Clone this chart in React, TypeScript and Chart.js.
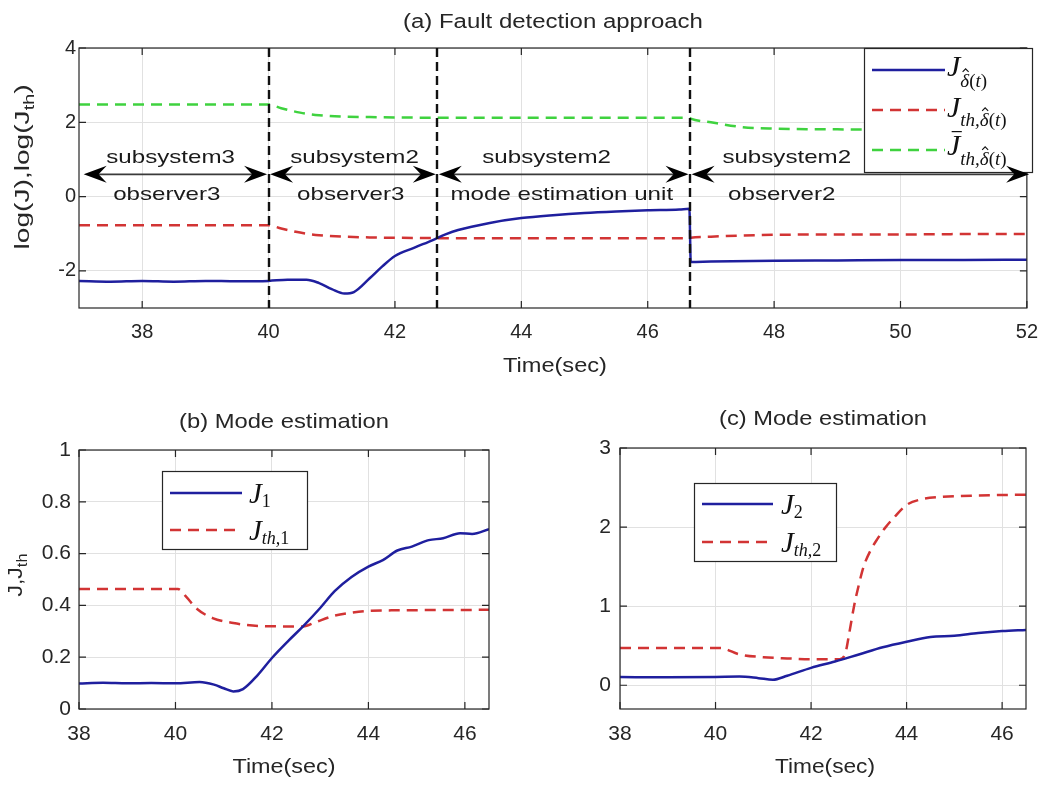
import React, { useEffect, useRef } from "react";
import { Chart, registerables } from "chart.js";

Chart.register(...registerables);

const SANS = '"Liberation Sans", Arial, Helvetica, sans-serif';
const SERIF = '"Liberation Serif", "Times New Roman", "DejaVu Serif", serif';
const TXT = "#262626";
const GRID = "#e1e1e1";
const BLUE = "#1f1f9e";
const RED = "#d23434";
const GREEN = "#3fd23f";

// ---------------- Panel (a): Fault detection approach ----------------
const timeA = [37, 37.5, 38, 38.5, 39, 39.5, 40, 40.3, 40.6, 40.8, 41.0, 41.2, 41.35, 41.6, 41.8, 42.0, 42.3, 42.6, 42.8, 43.0, 43.5, 44.0, 44.5, 45.0, 45.5, 46.0, 46.5, 46.66, 46.68, 47, 48, 49, 50, 51, 52];
const logJ = [-2.27, -2.29, -2.27, -2.29, -2.27, -2.28, -2.27, -2.24, -2.24, -2.33, -2.49, -2.61, -2.57, -2.2, -1.88, -1.6, -1.38, -1.17, -1.02, -0.9, -0.71, -0.58, -0.5, -0.44, -0.4, -0.37, -0.35, -0.33, -1.76, -1.75, -1.73, -1.72, -1.71, -1.71, -1.7];
const timeThA = [37, 40, 40.2, 40.5, 40.8, 41.2, 41.6, 42, 43, 44, 45, 46, 46.66, 46.68, 47, 47.5, 48, 49, 50, 51, 52];
const logJth = [-0.77, -0.77, -0.86, -0.97, -1.04, -1.08, -1.1, -1.11, -1.12, -1.12, -1.12, -1.12, -1.12, -1.11, -1.08, -1.05, -1.03, -1.02, -1.02, -1.01, -1.01];
const logJthBar = [2.48, 2.48, 2.38, 2.26, 2.19, 2.15, 2.14, 2.13, 2.12, 2.12, 2.12, 2.12, 2.12, 2.1, 2.0, 1.87, 1.83, 1.81, 1.8, 1.8, 1.8];
const xTicksA = [38, 40, 42, 44, 46, 48, 50, 52];
const xTickLabelsA = ["38", "40", "42", "44", "46", "48", "50", "52"];
const yTicksA = [-2, 0, 2, 4];
const yTickLabelsA = ["-2", "0", "2", "4"];
const switchTimes = [40, 42.67, 46.67];
const arrowBounds = [37.05, 40, 42.67, 46.67, 52.06];
const arrowLevel = 0.6;
const upperLabels = ["subsystem3", "subsystem2", "subsystem2", "subsystem2"];
const lowerLabels = ["observer3", "observer3", "mode estimation unit", "observer2"];
const upperLabelX = [38.45, 41.36, 44.4, 48.2];
const lowerLabelX = [38.39, 41.3, 44.64, 48.12];

// ---------------- Panel (b): Mode estimation J1 ----------------
const timeB = [38, 38.5, 39, 39.5, 40, 40.5, 40.8, 41.0, 41.2, 41.4, 41.7, 42.0, 42.35, 42.65, 43.0, 43.3, 43.65, 44.0, 44.3, 44.6, 44.9, 45.25, 45.55, 45.9, 46.15, 46.5];
const J1 = [0.098, 0.101, 0.099, 0.1, 0.099, 0.104, 0.094, 0.08, 0.068, 0.077, 0.13, 0.197, 0.265, 0.32, 0.39, 0.455, 0.51, 0.55, 0.575, 0.612, 0.627, 0.652, 0.659, 0.679, 0.676, 0.694];
const timeThB = [38, 40.05, 40.22, 40.43, 40.77, 41.2, 41.6, 42.2, 42.65, 42.9, 43.25, 43.65, 44.0, 44.6, 46.5];
const Jth1 = [0.463, 0.463, 0.434, 0.389, 0.351, 0.332, 0.322, 0.319, 0.319, 0.335, 0.358, 0.372, 0.379, 0.381, 0.383];
const xTicksB = [38, 40, 42, 44, 46];
const xTickLabelsB = ["38", "40", "42", "44", "46"];
const yTicksB = [0, 0.2, 0.4, 0.6, 0.8, 1];
const yTickLabelsB = ["0", "0.2", "0.4", "0.6", "0.8", "1"];

// ---------------- Panel (c): Mode estimation J2 ----------------
const timeC = [38, 39, 40, 40.5, 40.9, 41.2, 41.5, 42, 42.5, 43, 43.5, 44, 44.5, 45, 45.5, 46, 46.5];
const J2 = [0.105, 0.1, 0.105, 0.11, 0.09, 0.07, 0.12, 0.22, 0.3, 0.39, 0.48, 0.55, 0.61, 0.625, 0.66, 0.685, 0.7];
const timeThC = [38, 40.1, 40.5, 41, 41.5, 42, 42.6, 42.72, 42.8, 42.9, 43.0, 43.1, 43.25, 43.4, 43.55, 43.75, 44, 44.3, 44.7, 45.5, 46.5];
const Jth2 = [0.47, 0.47, 0.39, 0.355, 0.34, 0.33, 0.33, 0.41, 0.66, 1.0, 1.27, 1.5, 1.71, 1.86, 1.99, 2.13, 2.28, 2.35, 2.38, 2.4, 2.41];
const xTicksC = [38, 40, 42, 44, 46];
const xTickLabelsC = ["38", "40", "42", "44", "46"];
const yTicksC = [0, 1, 2, 3];
const yTickLabelsC = ["0", "1", "2", "3"];

// ---------------- helpers ----------------
type Seg = { t: string; font: string; dy?: number };

function richText(
  ctx: CanvasRenderingContext2D,
  segs: Seg[],
  x: number,
  y: number,
  opts: { w?: number; sx?: number; rot?: number; color?: string } = {}
) {
  ctx.save();
  ctx.translate(x, y);
  if (opts.rot) ctx.rotate(opts.rot);
  ctx.textAlign = "left";
  ctx.textBaseline = "alphabetic";
  const ws = segs.map((s) => {
    ctx.font = s.font;
    return ctx.measureText(s.t).width;
  });
  const tot = ws.reduce((a, b) => a + b, 0);
  const sx = opts.w ? opts.w / tot : opts.sx || 1;
  ctx.scale(sx, 1);
  let cx = -tot / 2;
  ctx.fillStyle = opts.color || TXT;
  segs.forEach((s, i) => {
    ctx.font = s.font;
    ctx.fillText(s.t, cx, s.dy || 0);
    cx += ws[i];
  });
  ctx.restore();
}

type MathPart = { t: string; size: number; up?: boolean; dy: number; hat?: boolean; bar?: boolean };

function drawMath(ctx: CanvasRenderingContext2D, x: number, base: number, parts: MathPart[]) {
  let cx = x;
  ctx.save();
  ctx.fillStyle = "#111";
  ctx.strokeStyle = "#111";
  ctx.textAlign = "left";
  ctx.textBaseline = "alphabetic";
  ctx.setLineDash([]);
  for (const p of parts) {
    ctx.font = `${p.up ? "" : "italic "}${p.size}px ${SERIF}`;
    const w = ctx.measureText(p.t).width;
    const y = base + p.dy;
    ctx.fillText(p.t, cx, y);
    if (p.hat) {
      const mx = cx + w * 0.6;
      const top = y - p.size * 0.72 - 1.5;
      ctx.lineWidth = 1.1;
      ctx.beginPath();
      ctx.moveTo(mx - 3, top);
      ctx.lineTo(mx, top - 3);
      ctx.lineTo(mx + 3, top);
      ctx.stroke();
    }
    if (p.bar) {
      const top = y - p.size * 0.68 - 3;
      ctx.lineWidth = 1.2;
      ctx.beginPath();
      ctx.moveTo(cx + w * 0.35, top);
      ctx.lineTo(cx + w + 1.5, top);
      ctx.stroke();
    }
    cx += w;
  }
  ctx.restore();
}

type LegendEntry = { color: string; dash: number[]; y: number; parts: MathPart[] };

function drawLegend(
  ctx: CanvasRenderingContext2D,
  box: { x: number; y: number; w: number; h: number },
  entries: LegendEntry[],
  x1: number,
  x2: number,
  textX: number
) {
  ctx.save();
  ctx.fillStyle = "#fff";
  ctx.fillRect(box.x, box.y, box.w, box.h);
  ctx.strokeStyle = TXT;
  ctx.lineWidth = 1.2;
  ctx.setLineDash([]);
  ctx.strokeRect(box.x + 0.5, box.y + 0.5, box.w - 1, box.h - 1);
  entries.forEach((e) => {
    ctx.strokeStyle = e.color;
    ctx.lineWidth = 2.5;
    ctx.setLineDash(e.dash);
    ctx.beginPath();
    ctx.moveTo(x1, e.y);
    ctx.lineTo(x2, e.y);
    ctx.stroke();
    drawMath(ctx, textX, e.y, e.parts);
  });
  ctx.restore();
}

function deltaHatSub(size: number, dy: number): MathPart[] {
  return [
    { t: "δ", size, dy, hat: true },
    { t: "(", size, dy, up: true },
    { t: "t", size, dy },
    { t: ")", size, dy, up: true },
  ];
}

function arrowHead(ctx: CanvasRenderingContext2D, tipX: number, y: number, dir: number) {
  const L = 23;
  const W = 8.5;
  ctx.beginPath();
  ctx.moveTo(tipX, y);
  ctx.lineTo(tipX - dir * L, y - W);
  ctx.lineTo(tipX - dir * L * 0.65, y);
  ctx.lineTo(tipX - dir * L, y + W);
  ctx.closePath();
  ctx.fill();
}

interface PanelSpec {
  w: number;
  h: number;
  area: { l: number; t: number; r: number; b: number };
  xMin: number;
  xMax: number;
  xTicks: number[];
  xLabels: string[];
  yMin: number;
  yMax: number;
  yTicks: number[];
  yLabels: string[];
  tickSize: number;
  xPad: number;
  yPad: number;
  datasets: any[];
  decorate: (chart: any, ctx: CanvasRenderingContext2D) => void;
}

function lineDataset(xs: number[], ys: number[], color: string, dash: number[]) {
  return {
    data: xs.map((x, i) => ({ x, y: ys[i] })),
    borderColor: color,
    backgroundColor: color,
    borderWidth: 2.5,
    borderDash: dash,
    pointRadius: 0,
    fill: false,
    cubicInterpolationMode: "monotone",
  };
}

function makeChart(canvas: HTMLCanvasElement, s: PanelSpec) {
  const font = { family: SANS, size: s.tickSize };
  const framePlugin = {
    id: "frame",
    afterDatasetsDraw(chart: any) {
      const ctx: CanvasRenderingContext2D = chart.ctx;
      const a = chart.chartArea;
      const xs = chart.scales.x;
      const ys = chart.scales.y;
      ctx.save();
      ctx.strokeStyle = TXT;
      ctx.lineWidth = 1.2;
      ctx.setLineDash([]);
      ctx.strokeRect(a.left, a.top, a.right - a.left, a.bottom - a.top);
      const tl = 7;
      ctx.beginPath();
      s.xTicks.forEach((v) => {
        const px = xs.getPixelForValue(v);
        ctx.moveTo(px, a.bottom);
        ctx.lineTo(px, a.bottom - tl);
        ctx.moveTo(px, a.top);
        ctx.lineTo(px, a.top + tl);
      });
      s.yTicks.forEach((v) => {
        const py = ys.getPixelForValue(v);
        ctx.moveTo(a.left, py);
        ctx.lineTo(a.left + tl, py);
        ctx.moveTo(a.right, py);
        ctx.lineTo(a.right - tl, py);
      });
      ctx.stroke();
      ctx.restore();
      s.decorate(chart, ctx);
    },
  };
  return new Chart(canvas, {
    type: "line",
    data: { datasets: s.datasets },
    options: {
      responsive: false,
      maintainAspectRatio: false,
      animation: false,
      events: [],
      layout: { padding: { left: 0, top: s.area.t, right: s.w - s.area.r, bottom: 0 } },
      plugins: { legend: { display: false }, title: { display: false }, tooltip: { enabled: false } },
      scales: {
        x: {
          type: "linear",
          min: s.xMin,
          max: s.xMax,
          afterBuildTicks: (sc: any) => {
            sc.ticks = s.xTicks.map((v) => ({ value: v }));
          },
          afterFit: (sc: any) => {
            sc.height = s.h - s.area.b;
          },
          grid: { color: GRID, lineWidth: 1, drawTicks: false },
          border: { display: false },
          ticks: {
            font,
            color: TXT,
            padding: s.xPad,
            maxRotation: 0,
            autoSkip: false,
            callback: (_v: any, i: number) => s.xLabels[i],
          },
        },
        y: {
          type: "linear",
          min: s.yMin,
          max: s.yMax,
          afterBuildTicks: (sc: any) => {
            sc.ticks = s.yTicks.map((v) => ({ value: v }));
          },
          afterFit: (sc: any) => {
            sc.width = s.area.l;
          },
          grid: { color: GRID, lineWidth: 1, drawTicks: false },
          border: { display: false },
          ticks: {
            font,
            color: TXT,
            padding: s.yPad,
            autoSkip: false,
            callback: (_v: any, i: number) => s.yLabels[i],
          },
        },
      },
    } as any,
    plugins: [framePlugin],
  } as any);
}

export default function App() {
  const refA = useRef<HTMLCanvasElement>(null);
  const refB = useRef<HTMLCanvasElement>(null);
  const refC = useRef<HTMLCanvasElement>(null);

  useEffect(() => {
    const charts: any[] = [];

    // ---------- (a) ----------
    charts.push(
      makeChart(refA.current!, {
        w: 1050,
        h: 390,
        area: { l: 79, t: 48, r: 1031, b: 308 },
        xMin: 37,
        xMax: 52,
        xTicks: xTicksA,
        xLabels: xTickLabelsA,
        yMin: -3,
        yMax: 4,
        yTicks: yTicksA,
        yLabels: yTickLabelsA,
        tickSize: 20,
        xPad: 12,
        yPad: 3,
        datasets: [
          lineDataset(timeA, logJ, BLUE, []),
          lineDataset(timeThA, logJth, RED, [11, 7]),
          lineDataset(timeThA, logJthBar, GREEN, [11, 7]),
        ],
        decorate: (chart, ctx) => {
          const a = chart.chartArea;
          const xs = chart.scales.x;
          const ys = chart.scales.y;
          // switching instants
          ctx.save();
          ctx.strokeStyle = "#111";
          ctx.lineWidth = 2.4;
          ctx.setLineDash([9, 5]);
          switchTimes.forEach((t) => {
            const px = Math.round(xs.getPixelForValue(t));
            ctx.beginPath();
            ctx.moveTo(px, a.top);
            ctx.lineTo(px, a.bottom);
            ctx.stroke();
          });
          ctx.restore();

          // legend
          const LJ = 30;
          const LS = 19;
          drawLegend(
            ctx,
            { x: 864, y: 48, w: 169, h: 125 },
            [
              { color: BLUE, dash: [], y: 70, parts: [{ t: "J", size: LJ, dy: 6 }, ...deltaHatSub(LS, 17)] },
              {
                color: RED,
                dash: [11, 7],
                y: 110,
                parts: [{ t: "J", size: LJ, dy: 7 }, { t: "th,", size: LS, dy: 16 }, ...deltaHatSub(LS, 16)],
              },
              {
                color: GREEN,
                dash: [11, 7],
                y: 150,
                parts: [{ t: "J", size: LJ, dy: 5, bar: true }, { t: "th,", size: LS, dy: 15 }, ...deltaHatSub(LS, 15)],
              },
            ],
            872,
            945,
            947
          );

          // double arrows with mode labels
          const ay = ys.getPixelForValue(arrowLevel);
          ctx.save();
          for (let i = 0; i < arrowBounds.length - 1; i++) {
            const x1 = xs.getPixelForValue(arrowBounds[i]) + 1.5;
            const x2 = xs.getPixelForValue(arrowBounds[i + 1]) - 1.5;
            ctx.strokeStyle = "#3a3a3a";
            ctx.lineWidth = 1.8;
            ctx.setLineDash([]);
            ctx.beginPath();
            ctx.moveTo(x1 + 12, ay);
            ctx.lineTo(x2 - 12, ay);
            ctx.stroke();
            ctx.fillStyle = "#000";
            arrowHead(ctx, x1, ay, -1);
            arrowHead(ctx, x2, ay, 1);
          }
          ctx.restore();
          const AF = `19px ${SANS}`;
          upperLabels.forEach((t, i) => {
            richText(ctx, [{ t, font: AF }], xs.getPixelForValue(upperLabelX[i]), ay - 11, { sx: 1.27, color: "#1a1a1a" });
          });
          lowerLabels.forEach((t, i) => {
            richText(ctx, [{ t, font: AF }], xs.getPixelForValue(lowerLabelX[i]), ay + 26, { sx: 1.27, color: "#1a1a1a" });
          });

          // title and axis labels
          richText(ctx, [{ t: "(a) Fault detection approach", font: `20px ${SANS}` }], (a.left + a.right) / 2, 28, { w: 300 });
          richText(ctx, [{ t: "Time(sec)", font: `20px ${SANS}` }], (a.left + a.right) / 2 + 2, 372, { w: 104 });
          richText(
            ctx,
            [
              { t: "log(J),log(J", font: `20px ${SANS}` },
              { t: "th", font: `14px ${SANS}`, dy: 5 },
              { t: ")", font: `20px ${SANS}` },
            ],
            29,
            167,
            { w: 165, rot: -Math.PI / 2 }
          );
        },
      })
    );

    // ---------- (b) ----------
    charts.push(
      makeChart(refB.current!, {
        w: 525,
        h: 395,
        area: { l: 79, t: 60, r: 489, b: 319 },
        xMin: 38,
        xMax: 46.5,
        xTicks: xTicksB,
        xLabels: xTickLabelsB,
        yMin: 0,
        yMax: 1,
        yTicks: yTicksB,
        yLabels: yTickLabelsB,
        tickSize: 21,
        xPad: 13,
        yPad: 8,
        datasets: [lineDataset(timeB, J1, BLUE, []), lineDataset(timeThB, Jth1, RED, [11, 7])],
        decorate: (chart, ctx) => {
          const a = chart.chartArea;
          drawLegend(
            ctx,
            { x: 162, y: 81, w: 146, h: 79 },
            [
              { color: BLUE, dash: [], y: 103, parts: [{ t: "J", size: 29, dy: 10 }, { t: "1", size: 18, dy: 14, up: true }] },
              {
                color: RED,
                dash: [11, 7],
                y: 140,
                parts: [{ t: "J", size: 29, dy: 10 }, { t: "th,", size: 18, dy: 14 }, { t: "1", size: 18, dy: 14, up: true }],
              },
            ],
            170,
            242,
            249
          );
          richText(ctx, [{ t: "(b) Mode estimation", font: `21px ${SANS}` }], (a.left + a.right) / 2, 38, { w: 210 });
          richText(ctx, [{ t: "Time(sec)", font: `20px ${SANS}` }], (a.left + a.right) / 2, 383, { w: 103 });
          richText(
            ctx,
            [
              { t: "J,J", font: `21px ${SANS}` },
              { t: "th", font: `15px ${SANS}`, dy: 5 },
            ],
            22,
            185,
            { w: 43, rot: -Math.PI / 2 }
          );
        },
      })
    );

    // ---------- (c) ----------
    charts.push(
      makeChart(refC.current!, {
        w: 525,
        h: 395,
        area: { l: 95, t: 58, r: 501, b: 319 },
        xMin: 38,
        xMax: 46.5,
        xTicks: xTicksC,
        xLabels: xTickLabelsC,
        yMin: -0.3,
        yMax: 3,
        yTicks: yTicksC,
        yLabels: yTickLabelsC,
        tickSize: 21,
        xPad: 13,
        yPad: 9,
        datasets: [lineDataset(timeC, J2, BLUE, []), lineDataset(timeThC, Jth2, RED, [11, 7])],
        decorate: (chart, ctx) => {
          const a = chart.chartArea;
          drawLegend(
            ctx,
            { x: 169, y: 93, w: 143, h: 79 },
            [
              { color: BLUE, dash: [], y: 114, parts: [{ t: "J", size: 29, dy: 10 }, { t: "2", size: 18, dy: 14, up: true }] },
              {
                color: RED,
                dash: [11, 7],
                y: 152,
                parts: [{ t: "J", size: 29, dy: 10 }, { t: "th,", size: 18, dy: 14 }, { t: "2", size: 18, dy: 14, up: true }],
              },
            ],
            177,
            248,
            256
          );
          richText(ctx, [{ t: "(c) Mode estimation", font: `21px ${SANS}` }], (a.left + a.right) / 2, 35, { w: 208 });
          richText(ctx, [{ t: "Time(sec)", font: `20px ${SANS}` }], (a.left + a.right) / 2 + 2, 383, { w: 100 });
        },
      })
    );

    return () => {
      charts.forEach((c) => c.destroy());
    };
  }, []);

  return (
    <div style={{ position: "absolute", left: 0, top: 0, width: 1050, height: 785, background: "#fff", overflow: "hidden" }}>
      <canvas ref={refA} width={1050} height={390} style={{ position: "absolute", left: 0, top: 0, width: 1050, height: 390 }} />
      <canvas ref={refB} width={525} height={395} style={{ position: "absolute", left: 0, top: 390, width: 525, height: 395 }} />
      <canvas ref={refC} width={525} height={395} style={{ position: "absolute", left: 525, top: 390, width: 525, height: 395 }} />
    </div>
  );
}
